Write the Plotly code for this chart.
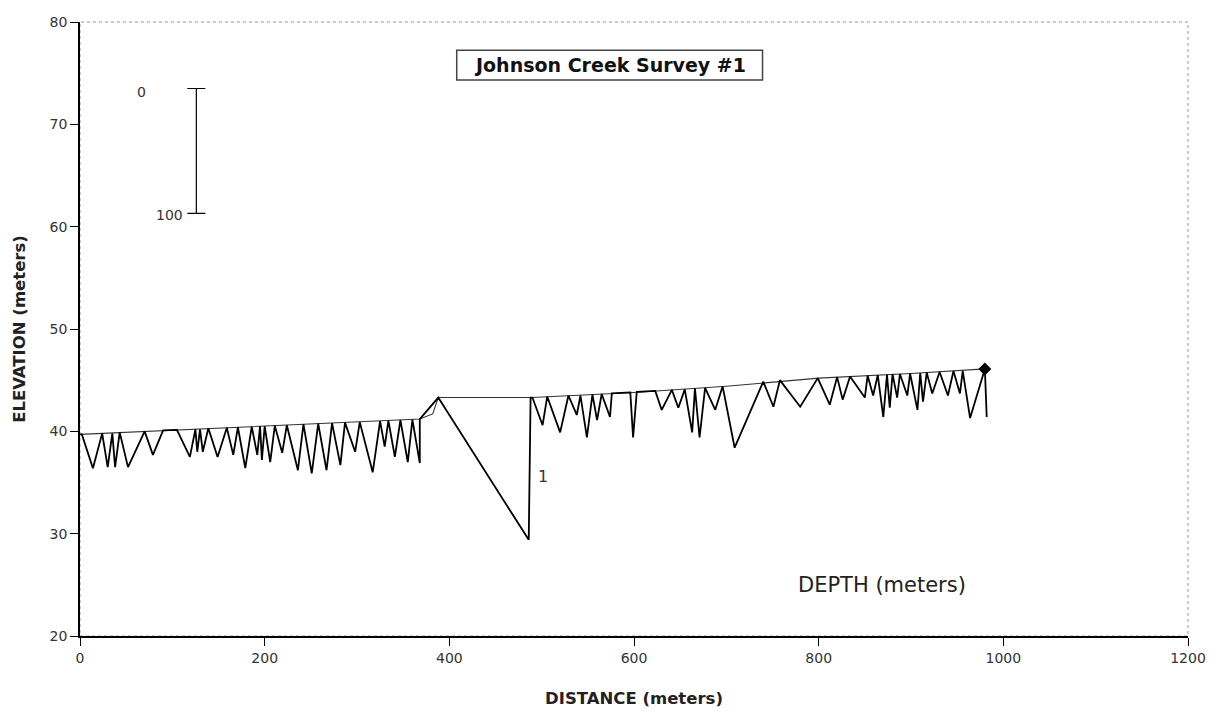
import plotly.graph_objects as go

# Water surface profile (distance m, elevation m)
surface_x = [0, 368, 382, 388, 490, 600, 700, 800, 900, 980]
surface_y = [39.7, 41.2, 41.7, 43.3, 43.3, 43.8, 44.4, 45.2, 45.65, 46.1]

# Depth soundings drawn as zigzag (alternating surface / bottom points)
zig_x = [0, 2, 14, 24, 30, 35, 38, 43, 52, 70, 79, 90, 105, 119, 125, 127, 130, 133,
         139, 149, 159, 166, 171, 179, 186, 192, 195, 197, 200, 206, 211, 219, 224,
         236, 242, 251, 258, 267, 273, 282, 287, 298, 303, 317, 325, 330, 334, 341,
         347, 355, 360, 368, 368,
         388, 486, 488,
         490, 501, 506, 520, 529, 538, 542, 549, 555, 560, 565, 574, 576, 596, 599,
         603, 623, 630, 641, 648, 655, 663, 666, 671, 677, 688, 696, 709, 740, 751,
         758, 780, 799, 812, 820, 826, 834, 850, 853, 859, 864, 870, 874, 877, 880,
         885, 888, 896, 899, 907, 910, 913, 917, 923, 931, 940, 946, 953, 956, 964,
         980, 982]
zig_y = [39.7, 39.7, 36.4, 39.8, 36.5, 39.8, 36.5, 39.9, 36.5, 40.0, 37.7, 40.1, 40.15, 37.5,
         40.2, 38.0, 40.2, 38.0, 40.3, 37.5, 40.35, 37.7, 40.4, 36.4, 40.45, 37.7,
         40.5, 37.2, 40.5, 37.0, 40.55, 37.9, 40.6, 36.2, 40.7, 35.9, 40.75, 36.2,
         40.8, 36.7, 40.85, 38.0, 40.9, 36.0, 41.0, 38.5, 41.05, 37.5, 41.1, 37.0,
         41.15, 36.9, 41.2,
         43.3, 29.4, 43.3,
         43.3, 40.6, 43.4, 39.9, 43.5, 41.6, 43.5, 39.4, 43.6, 41.1, 43.65, 41.4,
         43.7, 43.8, 39.4, 43.85, 43.95, 42.1, 44.05, 42.3, 44.1, 39.9, 44.2, 39.4,
         44.25, 42.1, 44.4, 38.4, 44.85, 42.4, 45.0, 42.4, 45.2, 42.6, 45.3, 43.1,
         45.35, 43.3, 45.45, 43.5, 45.5, 41.4, 45.55, 42.3, 45.6, 43.3, 45.6, 43.5,
         45.65, 42.1, 45.7, 42.9, 45.75, 43.7, 45.8, 43.5, 45.9, 43.7, 45.9, 41.3,
         46.1, 41.4]

# Depth scale bar (0 to 100)
scale_x = [126]
scale_top = [73.5]
scale_len = [12.2]

x_ticks = [0, 200, 400, 600, 800, 1000, 1200]
y_ticks = [20, 30, 40, 50, 60, 70, 80]

FONT = "DejaVu Sans, Verdana, sans-serif"

fig = go.Figure()

fig.add_trace(go.Scatter(
    x=surface_x, y=surface_y, mode="lines",
    line=dict(color="#333333", width=1.1), showlegend=False, hoverinfo="skip"))

fig.add_trace(go.Scatter(
    x=zig_x, y=zig_y, mode="lines",
    line=dict(color="black", width=1.8), showlegend=False))

# end marker (diamond)
fig.add_trace(go.Scatter(
    x=[surface_x[-1]], y=[surface_y[-1]], mode="markers",
    marker=dict(symbol="diamond", size=10, color="black"), showlegend=False))

# scale bar
fig.add_trace(go.Scatter(
    x=scale_x, y=scale_top, mode="markers",
    marker=dict(size=1, color="rgba(0,0,0,0)"),
    error_y=dict(type="data", symmetric=False, array=[0], arrayminus=scale_len,
                 color="black", thickness=1.2, width=9),
    showlegend=False, hoverinfo="skip"))

fig.add_annotation(x=67, y=73.2, text="0", showarrow=False,
                   font=dict(family=FONT, size=14, color="#333"))
fig.add_annotation(x=114, y=61.1, text="100", showarrow=False, xanchor="right",
                   font=dict(family=FONT, size=14, color="#333"))
fig.add_annotation(x=501, y=35.6, text="1", showarrow=False,
                   font=dict(family=FONT, size=16, color="#333"))
fig.add_annotation(x=869, y=25.0, text="DEPTH (meters)", showarrow=False,
                   font=dict(family=FONT, size=21, color="#222"))

# title box
fig.add_shape(type="rect", xref="paper", yref="paper", x0=0.340, x1=0.616,
              y0=0.9055, y1=0.954, line=dict(color="#444", width=1.5),
              fillcolor="white")
fig.add_annotation(x=0.478, y=0.93, xref="paper", yref="paper",
                   xanchor="center", yanchor="middle",
                   text="<b>Johnson Creek Survey #1</b>", showarrow=False,
                   font=dict(family=FONT, size=19, color="#111"))

# plot frame (top/right light)
fig.add_shape(type="rect", xref="paper", yref="paper", x0=0, y0=0, x1=1, y1=1,
              line=dict(color="#999999", width=1, dash="dot"), layer="below")

fig.update_layout(
    width=1199, height=700,
    margin=dict(l=72, r=19, t=14, b=72),
    paper_bgcolor="white", plot_bgcolor="white",
    font=dict(family=FONT, size=14, color="#333"),
)
fig.update_xaxes(range=[0, 1200], tickvals=x_ticks, showgrid=False, zeroline=False,
                 showline=True, linecolor="black", linewidth=1.5, automargin=False,
                 ticks="outside", ticklen=8, tickcolor="black",
                 title=dict(text="<b>DISTANCE (meters)</b>",
                            font=dict(size=16.5, color="#222"), standoff=30))
fig.update_yaxes(range=[20, 80], tickvals=y_ticks, showgrid=False, zeroline=False,
                 showline=True, linecolor="black", linewidth=1.5, automargin=False,
                 ticks="outside", ticklen=8, tickcolor="black",
                 title=dict(text="<b>ELEVATION (meters)</b>",
                            font=dict(size=16.5, color="#222"), standoff=20))

fig.write_html("out.html")
